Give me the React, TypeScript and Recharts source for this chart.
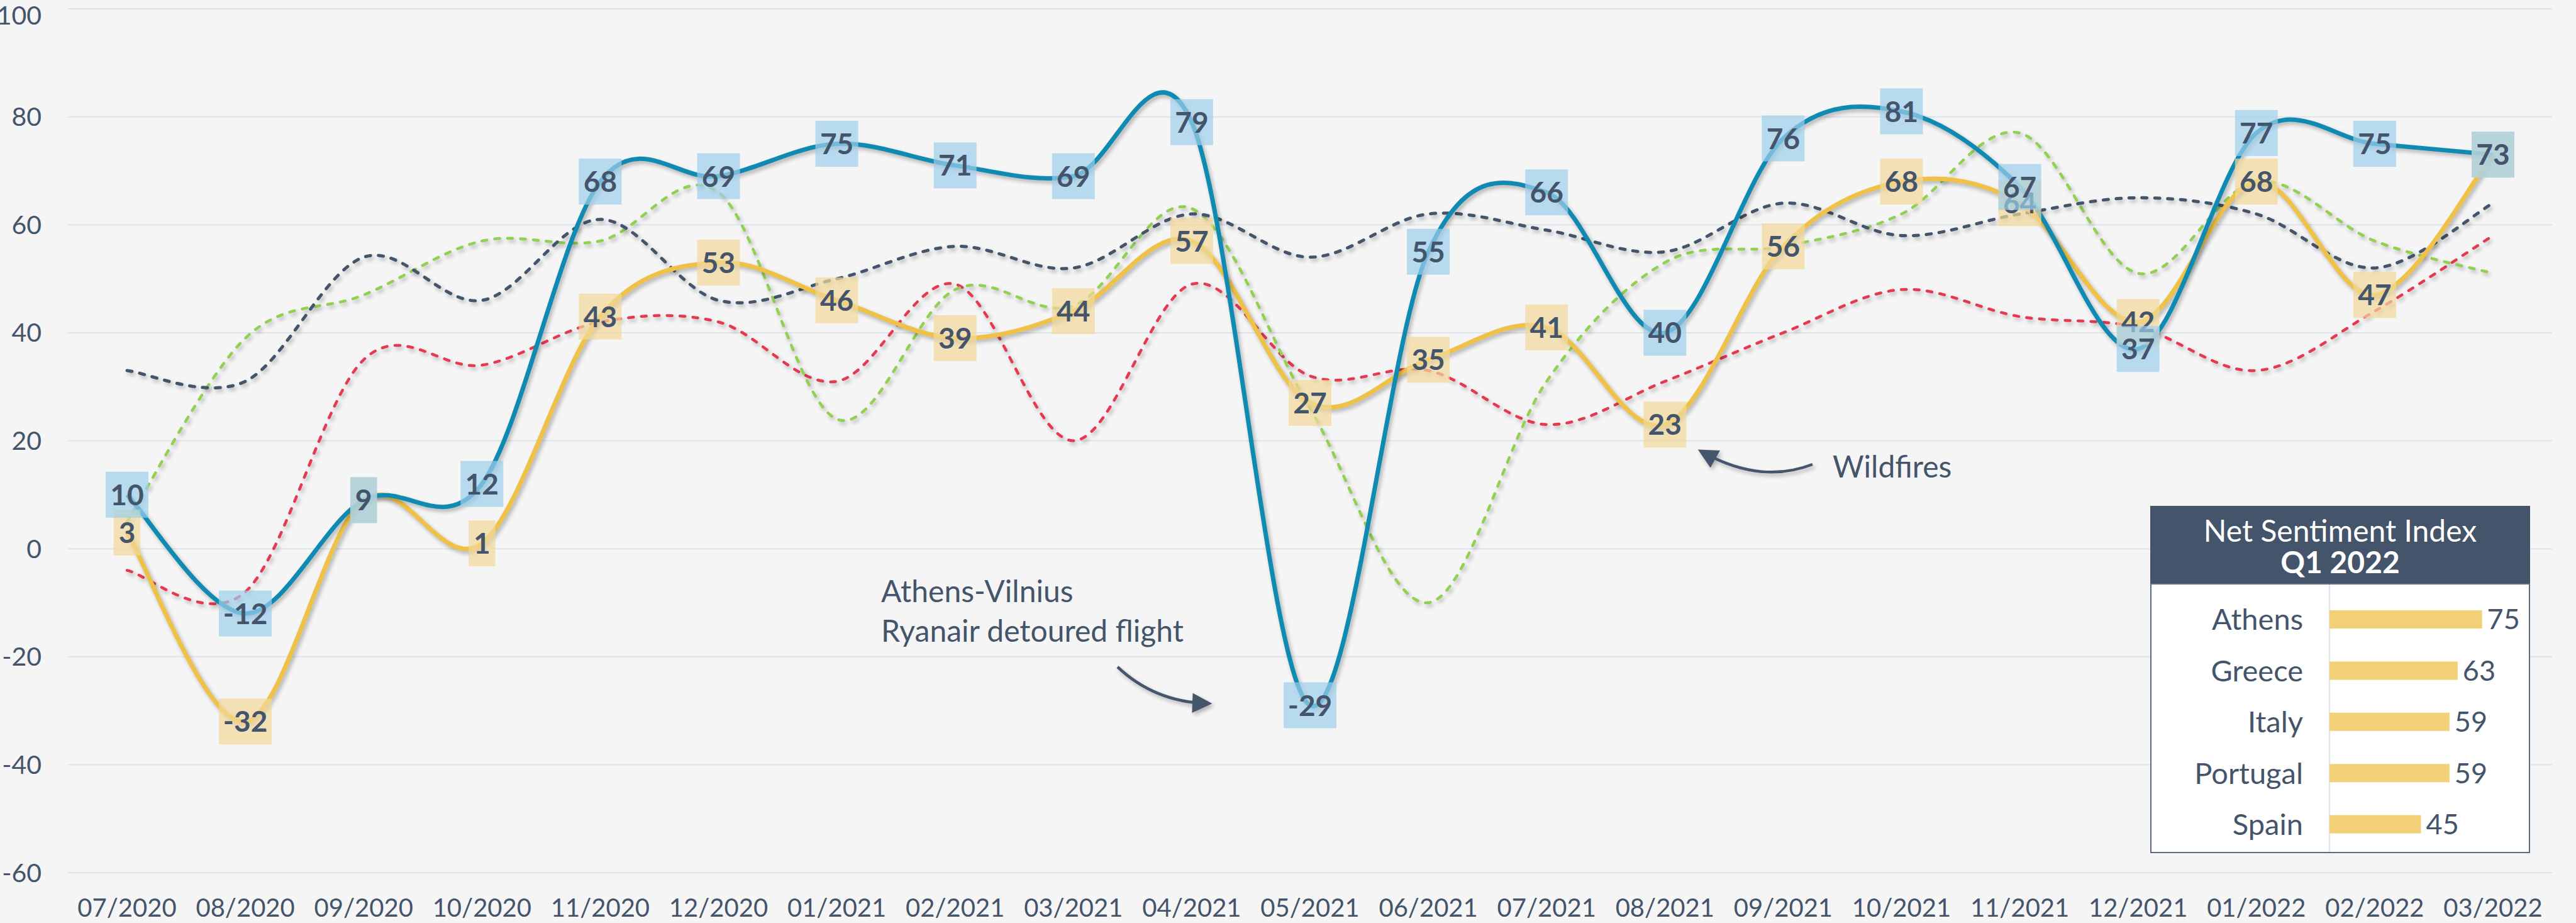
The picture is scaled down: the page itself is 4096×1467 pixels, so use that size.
import React from 'react';
import { LineChart, Line, XAxis, YAxis, CartesianGrid, LabelList, BarChart, Bar } from 'recharts';

const months = [
  '07/2020', '08/2020', '09/2020', '10/2020', '11/2020', '12/2020', '01/2021', '02/2021', '03/2021', '04/2021', '05/2021',
  '06/2021', '07/2021', '08/2021', '09/2021', '10/2021', '11/2021', '12/2021', '01/2022', '02/2022', '03/2022',
];
const athens = [10, -12, 9, 12, 68, 69, 75, 71, 69, 79, -29, 55, 66, 40, 76, 81, 67, 37, 77, 75, 73];
const greece = [3, -32, 9, 1, 43, 53, 46, 39, 44, 57, 27, 35, 41, 23, 56, 68, 64, 42, 68, 47, 73];
const italy = [33, 31, 54, 46, 61, 46, 50, 56, 52, 62, 54, 62, 59, 55, 64, 58, 62, 65, 62, 52, 64];
const portugal = [5, 39, 47, 57, 57, 66, 24, 48, 45, 63, 26, -10, 31, 53, 56, 62, 77, 51, 68, 57, 51];
const spain = [-4, -8, 35, 34, 42, 42, 31, 49, 20, 49, 32, 33, 23, 31, 40, 48, 43, 41, 33, 44, 58];
const yTicks = [-60, -40, -20, 0, 20, 40, 60, 80, 100];

const q1Names = ['Athens', 'Greece', 'Italy', 'Portugal', 'Spain'];
const q1Values = [75, 63, 59, 59, 45];

const data = months.map((m, i) => ({
  month: m,
  athens: athens[i],
  greece: greece[i],
  italy: italy[i],
  portugal: portugal[i],
  spain: spain[i],
}));
const q1Data = q1Names.map((n, i) => ({ name: n, value: q1Values[i] }));

const W = 4096;
const H = 1467;
const TEXT = '#44546A';

// excel style smoothing: bezier through every point, tangents from neighbours
const excelSmooth = (context: any) => {
  let pts: number[][] = [];
  return {
    areaStart() {},
    areaEnd() {},
    lineStart() {
      pts = [];
    },
    point(x: number, y: number) {
      pts.push([+x, +y]);
    },
    lineEnd() {
      if (!pts.length) return;
      context.moveTo(pts[0][0], pts[0][1]);
      for (let i = 0; i < pts.length - 1; i++) {
        const p0 = pts[i - 1] || pts[i];
        const p1 = pts[i];
        const p2 = pts[i + 1];
        const p3 = pts[i + 2] || p2;
        context.bezierCurveTo(
          p1[0] + (p2[0] - p0[0]) / 6,
          p1[1] + (p2[1] - p0[1]) / 6,
          p2[0] - (p3[0] - p1[0]) / 6,
          p2[1] - (p3[1] - p1[1]) / 6,
          p2[0],
          p2[1]
        );
      }
    },
  };
};

const boxLabel = (fill: string) => (props: any) => {
  const { x, y, value } = props;
  if (x == null || y == null) return null;
  const s = String(value);
  const neg = s.startsWith('-');
  const w = 17 + s.replace('-', '').length * 25.5 + (neg ? 16 : 0);
  return (
    <g>
      <rect x={x - w / 2} y={y - 36.5} width={w} height={73} fill={fill} fillOpacity={0.7} />
      <text x={x} y={y} dy="0.36em" textAnchor="middle" fontSize={46} fontWeight={700} fill={TEXT}>
        {s}
      </text>
    </g>
  );
};

const dashed = { strokeDasharray: '8 12.5', strokeLinecap: 'round' as const };

export default function App() {
  return (
    <div style={{ position: 'absolute', left: 0, top: 0, width: W, height: H, background: '#F5F5F5', fontFamily: 'Lato, sans-serif', overflow: 'hidden' }}>
      <style>{`body{margin:0} .sh .recharts-line-curve{filter:drop-shadow(3px 4px 3px rgba(0,0,0,0.28));}`}</style>
      <LineChart width={W} height={H} data={data} margin={{ top: 14, right: 38, left: 0, bottom: 0 }}>
        <CartesianGrid vertical={false} stroke="#DFE3EA" strokeWidth={2} />
        <XAxis
          dataKey="month"
          axisLine={false}
          tickLine={false}
          tickSize={0}
          tickMargin={42}
          height={80}
          interval={0}
          padding={{ left: 94, right: 94 }}
          tick={{ fill: TEXT, fontSize: 40 }}
        />
        <YAxis
          domain={[-60, 100]}
          ticks={yTicks}
          axisLine={false}
          tickLine={false}
          tickSize={0}
          tickMargin={42}
          width={108}
          tick={{ fill: TEXT, fontSize: 41 }}
        />
        <Line className="sh" dataKey="spain" type={excelSmooth as any} stroke="#E63950" strokeWidth={4.5} {...dashed} dot={false} activeDot={false} isAnimationActive={false} />
        <Line className="sh" dataKey="portugal" type={excelSmooth as any} stroke="#92D050" strokeWidth={4.5} {...dashed} dot={false} activeDot={false} isAnimationActive={false} />
        <Line className="sh" dataKey="italy" type={excelSmooth as any} stroke="#44546A" strokeWidth={5} {...dashed} dot={false} activeDot={false} isAnimationActive={false} />
        <Line className="sh" dataKey="greece" type={excelSmooth as any} stroke="#EFC247" strokeWidth={7} dot={false} activeDot={false} isAnimationActive={false} />
        <Line className="sh" dataKey="athens" type={excelSmooth as any} stroke="#0F8BB3" strokeWidth={7} dot={false} activeDot={false} isAnimationActive={false} />
        {/* label layers on top of all lines */}
        <Line dataKey="greece" stroke="none" dot={false} activeDot={false} isAnimationActive={false}>
          <LabelList dataKey="greece" content={boxLabel('#F2D89A')} />
        </Line>
        <Line dataKey="athens" stroke="none" dot={false} activeDot={false} isAnimationActive={false}>
          <LabelList dataKey="athens" content={boxLabel('#9ECFEB')} />
        </Line>
      </LineChart>

      <svg width={W} height={H} style={{ position: 'absolute', left: 0, top: 0, pointerEvents: 'none' }}>
        <defs>
          <marker id="ah" viewBox="0 0 10 10" refX="7" refY="5" markerWidth="8" markerHeight="7" orient="auto">
            <path d="M0,0 L10,5 L0,10 z" fill={TEXT} />
          </marker>
          <filter id="ds" x="-20%" y="-20%" width="140%" height="140%">
            <feDropShadow dx="3" dy="4" stdDeviation="3" floodColor="#000" floodOpacity="0.28" />
          </filter>
        </defs>
        <g filter="url(#ds)" stroke={TEXT} strokeWidth={4.5} fill="none">
          <path d="M1777,1060 Q1835,1115 1918,1118" markerEnd="url(#ah)" />
          <path d="M2882,738 Q2800,770 2708,719" markerEnd="url(#ah)" />
        </g>
        <g fill={TEXT} fontSize={48} fontFamily="Lato, sans-serif">
          <text x={1401} y={938} dominantBaseline="central">Athens-Vilnius</text>
          <text x={1401} y={1001} dominantBaseline="central">Ryanair detoured flight</text>
          <text x={2914} y={740} dominantBaseline="central">Wildfires</text>
        </g>
      </svg>

      <div style={{ position: 'absolute', left: 3419, top: 804, width: 604, height: 123, background: TEXT, color: '#fff', textAlign: 'center' }}>
        <div style={{ fontSize: 48, lineHeight: '50px', paddingTop: 14 }}>Net Sentiment Index</div>
        <div style={{ fontSize: 48, lineHeight: '50px', fontWeight: 700 }}>Q1 2022</div>
      </div>
      <div style={{ position: 'absolute', left: 3419, top: 927, width: 604, height: 429, boxSizing: 'border-box', background: '#fff', border: '2px solid #5B6B80' }}>
        <div style={{ position: 'absolute', left: 282, top: 0, width: 2, height: 425, background: '#DCE1EA' }} />
        <BarChart width={600} height={425} data={q1Data} layout="vertical" margin={{ top: 15, right: 0, left: 0, bottom: 3 }}>
          <XAxis type="number" domain={[0, 98]} hide />
          <YAxis
            type="category"
            dataKey="name"
            width={283}
            axisLine={false}
            tickLine={false}
            tickSize={0}
            tickMargin={42}
            tick={{ fill: TEXT, fontSize: 47 }}
          />
          <Bar dataKey="value" fill="#F2D077" barSize={29} isAnimationActive={false}>
            <LabelList dataKey="value" position="right" offset={8} fill={TEXT} fontSize={45} />
          </Bar>
        </BarChart>
      </div>
    </div>
  );
}
